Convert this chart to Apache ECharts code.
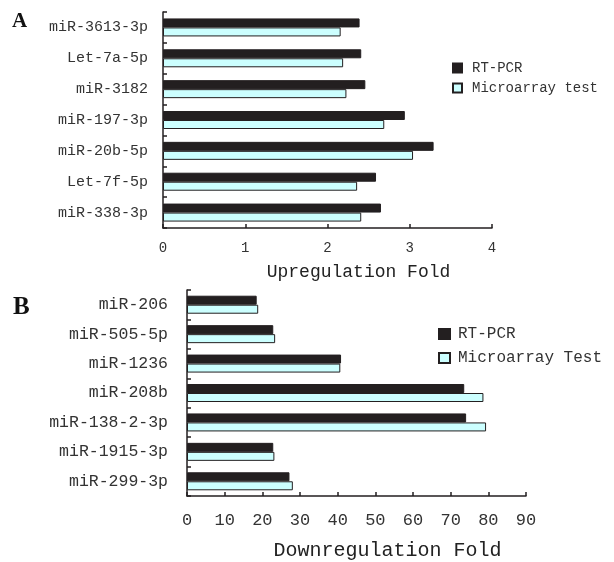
<!DOCTYPE html>
<html><head><meta charset="utf-8">
<script src="https://cdn.jsdelivr.net/npm/echarts@6/dist/echarts.min.js"></script>
<style>html,body{margin:0;padding:0;background:#fff}#c{width:614px;height:562px}</style>
</head><body><div id="c"></div>
<script>
const catsA = ['miR-3613-3p','Let-7a-5p','miR-3182','miR-197-3p','miR-20b-5p','Let-7f-5p','miR-338-3p'];
const rtA   = [2.39, 2.41, 2.46, 2.94, 3.29, 2.59, 2.65];
const arrA  = [2.16, 2.19, 2.23, 2.69, 3.04, 2.36, 2.41];
const ticksA = [0, 1, 2, 3, 4];

const catsB = ['miR-206','miR-505-5p','miR-1236','miR-208b','miR-138-2-3p','miR-1915-3p','miR-299-3p'];
const rtB   = [18.5, 22.9, 40.9, 73.6, 74.1, 22.9, 27.2];
const arrB  = [18.9, 23.4, 40.7, 78.7, 79.4, 23.2, 28.1];
const ticksB = [0, 10, 20, 30, 40, 50, 60, 70, 80, 90];

const MONO = '"Liberation Mono", "DejaVu Sans Mono", monospace';
const INK = '#231f20';
const CYAN = '#ccffff';

function xAx(idx, ticks, name, fs, nfs, gap, pad, margin) {
  return {
    type: 'value', gridIndex: idx,
    min: ticks[0], max: ticks[ticks.length - 1], interval: ticks[1] - ticks[0],
    splitLine: {show: false},
    axisLine: {show: true, lineStyle: {color: INK, width: 1.5}},
    axisTick: {show: true, inside: true, length: 4, lineStyle: {color: INK, width: 1.5}},
    axisLabel: {fontFamily: MONO, fontSize: fs, color: '#333', margin: margin},
    name: name, nameLocation: 'middle', nameGap: gap,
    nameTextStyle: {fontFamily: MONO, fontSize: nfs, color: '#222', padding: [0, 0, 0, pad]}
  };
}
function yAx(idx, cats, fs, margin) {
  return {
    type: 'category', gridIndex: idx, data: cats, inverse: true,
    axisLine: {show: true, lineStyle: {color: INK, width: 1.5}},
    axisTick: {show: true, inside: true, length: 4, lineStyle: {color: INK, width: 1.5}},
    axisLabel: {fontFamily: MONO, fontSize: fs, color: '#333', margin: margin}
  };
}
function bar(name, idx, data, color) {
  return {
    type: 'bar', name: name, xAxisIndex: idx, yAxisIndex: idx, data: data,
    barWidth: 9, barGap: '0%',
    itemStyle: {color: color, borderColor: INK, borderWidth: 1},
    emphasis: {disabled: true}
  };
}

const chart = echarts.init(document.getElementById('c'), null, {renderer: 'canvas'});
chart.setOption({
  animation: false,
  title: [
    {text: 'A', left: 7, top: 6, textStyle: {fontFamily: '"Liberation Serif", serif', fontWeight: 'bold', fontSize: 21, color: '#111'}},
    {text: 'B', left: 8, top: 290, textStyle: {fontFamily: '"Liberation Serif", serif', fontWeight: 'bold', fontSize: 25, color: '#111'}}
  ],
  legend: [
    {data: ['RT-PCR', 'Microarray test'], orient: 'vertical', left: 447, top: 56,
     icon: 'rect', itemWidth: 9, itemHeight: 9, itemGap: 6, selectedMode: false,
     textStyle: {fontFamily: MONO, fontSize: 14, color: '#333', padding: [0, 0, 0, 5]}},
    {data: ['RT-PCR', 'Microarray Test'], orient: 'vertical', left: 433, top: 321,
     icon: 'rect', itemWidth: 11, itemHeight: 10, itemGap: 8, selectedMode: false,
     textStyle: {fontFamily: MONO, fontSize: 16, color: '#333', padding: [0, 0, 0, 3]}}
  ],
  grid: [
    {left: 163, top: 12, width: 329, height: 216},
    {left: 187, top: 290, width: 339, height: 208}
  ],
  xAxis: [
    xAx(0, ticksA, 'Upregulation Fold', 14, 18, 35, 62, 13),
    xAx(1, ticksB, 'Downregulation Fold', 17, 20, 45, 62, 16)
  ],
  yAxis: [
    yAx(0, catsA, 15, 15),
    yAx(1, catsB, 16.5, 19)
  ],
  series: [
    bar('RT-PCR', 0, rtA, INK),
    bar('Microarray test', 0, arrA, CYAN),
    bar('RT-PCR', 1, rtB, INK),
    bar('Microarray Test', 1, arrB, CYAN)
  ]
});
</script></body></html>
